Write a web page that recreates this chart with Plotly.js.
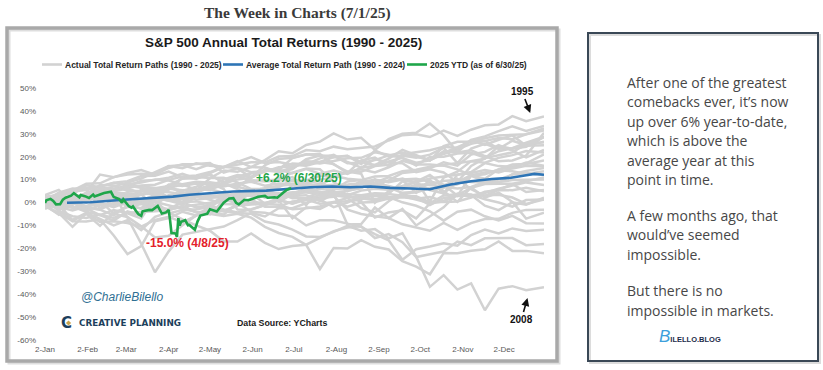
<!DOCTYPE html>
<html><head><meta charset="utf-8">
<script src="https://cdn.plot.ly/plotly-3.0.1.min.js"></script>
<style>html,body{margin:0;padding:0;background:#fff;} #chart{width:823px;height:370px;}</style>
</head><body><div id="chart"></div>
<script>
// ---------- DATA ----------
const gridDates = ['2025-01-02','2025-01-12','2025-01-22','2025-02-01','2025-02-11','2025-02-21','2025-03-03','2025-03-13','2025-03-23','2025-04-02','2025-04-12','2025-04-22','2025-05-02','2025-05-12','2025-05-22','2025-06-01','2025-06-11','2025-06-21','2025-07-01','2025-07-11','2025-07-21','2025-07-31','2025-08-10','2025-08-20','2025-08-30','2025-09-09','2025-09-19','2025-09-29','2025-10-09','2025-10-19','2025-10-29','2025-11-08','2025-11-18','2025-11-28','2025-12-08','2025-12-18','2025-12-31'];

const y1990 = [1.8,-3.7,-6,-6.7,-5.2,-6.7,-4.4,-4.2,-3.8,-3.3,-1.6,-4.1,-5.2,0.9,2.7,4.2,5.2,3.5,3.3,5.1,4.1,2.8,-3.1,-5,-6,-6.8,-9.5,-10.8,-12.3,-8.9,-11.9,-9,-7.2,-7.1,-4.5,-3.2,-3.1];
const y1991 = [-1.1,-5.3,-0.2,4.3,12.2,11.1,12.9,14.2,12.2,15.9,16.4,14.6,16.7,15.3,17.7,19.8,17.3,17.7,16.5,16.1,17.7,19.9,20.4,16.7,22.7,20.1,20.4,20.1,18.6,22.4,21.9,22.8,20.3,18,18.4,20.5,30.5];
const y1992 = [0,-0.6,0.4,-1.7,-0.5,-1,-0.6,-2.8,-1.2,-3.1,-1.8,-0.9,0,0.8,0.5,1.3,-1.8,-1.8,0.5,1,3.4,3.5,2.3,2.3,1.5,1.9,3.6,2.2,-1.1,2,2.9,3.1,4.2,6,7.4,8.8,7.6];
const y1993 = [0,-1.2,0.2,1.8,3.1,0.2,4.1,3.8,3.7,2,3.7,1.2,2,3,3.5,5.4,4.1,3.8,4.5,4.4,3.8,4.5,5,6.6,8.3,7.2,5.7,7.8,8,9.4,9.9,9,8.7,9,9.8,9.9,10.1];
const y1994 = [-0.2,1.7,2,3,1.1,1.5,0.1,0.5,1.1,-4.8,-3.2,-2.9,-2,-3.8,-1.4,-0.9,-0.5,-1,-2.9,-2.5,-1.7,0,0.7,1.2,4,2.3,2.8,1.2,-0.3,3.1,3.6,3.5,1.4,0,-1.8,1.1,1.3];
const y1995 = [0,0.6,1.4,2.7,5.2,5.8,6.3,7.4,7.8,9.9,11.4,11.8,13.3,15.5,16.7,17.6,17.5,20.1,20.3,22.9,22.4,24.4,23.3,24,24.5,27.1,29.4,29.8,28.6,31.4,29.1,31.8,33.7,34.1,37.7,35.5,37.6];
const y1996 = [0.8,-2.7,-0.2,3.5,7.7,7.4,5,5.2,6.2,7.2,3.9,6,5.4,8.4,11.3,9.7,9.2,9.6,11.1,6.2,4.4,5.5,9.2,9.8,7.7,9.7,12.9,13.5,14.9,17.6,16.1,21,22.1,25.1,22.7,19.7,23];
const y1997 = [-0.5,2.6,5.8,6.3,6.9,8.5,7.8,7.1,6.4,1.9,0.3,5.3,10.6,14,13.4,15.5,18.5,22.4,21.5,25.1,26.6,30.2,27.5,28.3,23,27.7,30,30.5,34.5,29.3,22,27.3,28.9,31.2,33.3,31.3,33.4];
const y1998 = [0.5,-3.1,-1.1,3.4,5.3,6.9,8.7,10.5,13.3,15.9,15,17.1,16.1,15.7,15.1,13.2,13.6,14.3,19.4,21,21.2,16.6,13.5,12.6,-0.1,5,6.5,9.5,0.4,10.9,13.5,18.1,19.1,24.6,23.5,24.3,28.6];
const y1999 = [0,0.8,-0.2,3.7,2.4,3.7,0.2,5.6,3,5.6,10.9,11.1,10.7,10.8,8.8,5.9,5.9,10.4,13,14.9,14.5,9,5.1,9.7,8.7,11,9.7,4.3,9.9,3.8,12.2,13.3,17.2,15.9,15.6,17.1,21];
const y2000 = [-1,-2.5,-1.8,-4,-5.5,-7.9,-3.9,-5.7,4.1,2.7,0.1,-2.1,-1.3,-3,-4.3,-2.9,-1.1,1.2,-0.5,1.3,1.3,-2,0,2.7,3,2.4,0.1,-1.4,-3.8,-7.9,-4,-3.1,-6,-7.8,-5.8,-9,-9.1];
const y2001 = [-2.8,-0.1,1.8,4.1,0.8,-4.9,-6.3,-10.4,-15.2,-14.5,-9.9,-5.6,-3.6,-5.3,-0.2,-4,-4.5,-5.8,-5.8,-10,-7.7,-7.7,-9.2,-10.6,-13.8,-16.5,-25,-20.4,-19.2,-17.8,-18.8,-14.2,-11.8,-13.5,-11.3,-12.4,-11.9];
const y2002 = [0.6,-0.2,-2.4,-2.2,-3.1,-5.6,-1.2,0.4,0.3,-1.3,-2.8,-4,-5.1,-5.9,-4.9,-6.6,-10.6,-13.3,-15,-18.5,-29,-19.8,-20.1,-16.4,-19.3,-20.5,-25.6,-28,-31.3,-22,-22.1,-21,-20.4,-17,-21.1,-21.1,-22.1];
const y2003 = [3.3,5.5,-0.1,-2.5,-5.5,-3.3,-4.7,-7,2.3,0.7,-0.7,4.3,6.5,8.2,6.9,10.9,14.5,14.3,12.8,14.6,12.6,14,12.5,15.2,16.1,17.9,19.5,16.1,19.9,20,21.4,21.7,19.6,22.4,23.7,26.1,28.7];
const y2004 = [-0.3,1.5,3,2.3,4.3,3.2,3.8,1.2,-1,3.2,3.5,3.1,1.1,-0.6,-0.9,1.6,3,2.6,2.5,1.3,-0.5,0.2,-1.8,0,0.2,1.7,2.3,1.7,2.4,0.7,3.2,6.4,8.1,8.2,8.2,9.3,10.9];
const y2005 = [-0.8,-1.9,-3.5,-1.7,-0.3,-2,0.2,-0.6,-2.9,-2.7,-1.5,-4.3,-3.6,-3.6,-1.2,0,-0.1,1,-0.4,1.6,2.3,3,2.6,1.9,1,3.7,3,2.7,0.2,0.2,0.5,2.2,4.7,5.5,5.4,6.4,4.9];
const y2006 = [1.6,3.8,1.2,2.9,1.7,3.1,3.5,3.3,4.8,4.5,3.7,5.7,5.9,4.2,2,3.9,-0.5,2,2.9,3.2,0.6,3.6,3.2,5.2,6,5.6,7.2,8.7,10.5,11.4,12.1,12.9,14.2,13.1,14.9,16.1,15.8];
const y2007 = [-0.1,1,0.4,2.1,1.3,3.2,-1.9,-2.4,1.8,0.9,2.7,5.3,6.6,7,8.3,9.1,7.3,8.3,8.1,8.7,9.4,3.8,3.7,3.2,4.1,3.8,9.3,9.1,12,7.4,10.4,5.8,2.9,5.5,8,4.6,5.5];
const y2008 = [-1.4,-4.5,-10.6,-4.7,-8.5,-8.2,-8.9,-10.5,-7.6,-6.2,-8.7,-5.7,-3.1,-3.8,-4.6,-4.9,-8.3,-9.6,-11.8,-14.8,-15,-12.8,-10.2,-12.3,-11.6,-15.6,-13.4,-23.6,-36.8,-31.7,-38,-35.3,-47,-37.6,-36.5,-38.3,-37];
const y2009 = [3.2,-3.5,-8.2,-8.3,-7.3,-14.4,-22.5,-19,-8.2,-6.8,-4,-5.6,-1.9,1.7,-0.7,5.6,5.9,0.3,3.7,-1.1,7.4,11,13.3,13.4,15.9,16.5,20.5,19.6,20.9,23.9,17.2,23.6,25.6,23.5,23.7,25,26.5];
const y2010 = [1.6,3,-1.9,-2.1,-3,-0.4,0.8,3.6,5.8,6.2,8,9.1,8.6,5.9,-3,-3.1,-1.1,0.9,-6.9,-2.1,-2.8,0.2,2,-2.4,-4.3,0.6,4.2,4.4,6.3,6.5,8,11.7,9.3,8.6,12.4,13.8,15.1];
const y2011 = [1.1,2.4,2.1,4.2,6,4.9,6.1,4.1,3.7,6.4,5.1,6.9,8.9,8,6.9,5.4,2.1,2.7,7.5,6.1,8.1,4,-9.6,-9.4,-2.2,-6.8,-2.8,-10,-6,-2.1,3.9,3.3,-1.4,-3.3,0.1,-0.9,2.1];
const y2012 = [1.6,3.1,4.8,5.5,7.1,8.7,9.3,11.6,11.7,13.5,11,10.4,12.4,8.5,5.9,2.7,5.3,6.6,9.9,8.1,9.9,11.2,13.4,14.5,13.1,15.4,18.2,16.6,16.6,16.1,14.5,11.8,10.4,14.5,15.3,17.5,16];
const y2013 = [2.5,3.3,4.9,6.3,6.7,5.7,7,9.5,9.8,10.8,12.5,10.5,12.9,15.6,18.1,15.5,15.3,13.1,14.6,18.9,20.5,19.8,20.3,17.7,16.4,19.2,23,20.7,18.3,24.6,26.5,26.5,28.1,29.3,29.5,29.8,32.4];
const y2014 = [-0.9,-0.2,0,-3.4,-1.2,-0.4,0.3,0.4,1.5,2.9,-1.1,2.4,2.6,3.4,3.3,5.1,6.2,7.3,7.9,7.6,8.1,5.9,6.2,9,10,9.2,10.5,8.7,5.5,4,9.1,11.9,13.1,14,13.7,12.5,13.7];
const y2015 = [0,-1.4,0.3,-1.6,0.7,2.8,2.7,0.1,2.7,0.9,2.2,3,3.1,2.8,4.3,3.5,3.3,4.1,1.9,2,4.6,3.4,3.5,0.2,-6.5,-4.3,-3.4,-6.9,-0.4,0.5,3.2,2.8,3.1,3.4,2.2,-0.6,1.4];
const y2016 = [-1.5,-5,-8,-4.9,-10.2,-4.4,-2,-0.6,0.2,2,1.6,3.1,2.6,1.9,1.2,3.7,3.7,3.4,4.1,5.9,7.3,7.8,7.9,8.4,8.2,5.8,6.5,7.1,7.8,6.9,6.1,6.8,9,10,12.2,12.9,12];
const y2017 = [0.8,1.5,1.6,2,3.8,6,7.4,6.5,5.4,6,5.4,5.6,7.6,7.7,7.8,9.5,9.7,9.9,9.3,9.7,11.7,11.7,10.4,9.8,11.4,11.6,13.7,14.3,15.6,16.3,17.3,18,17.4,19.5,20.7,22.5,21.8];
const y2018 = [0.8,4.3,6.1,5.6,-2.5,1.3,1,3.8,-2.8,-2.9,0.2,0.5,-0.8,2.7,2.6,3.1,5,3.7,2.9,4.8,5.8,6.4,7.1,8.1,9.8,8.9,10.1,10.4,9.1,5,0.3,6.6,2.2,4.3,0.3,-7,-4.4];
const y2019 = [0.1,3.7,5.2,8.2,8.4,11.1,12.2,12.6,12.3,15.1,16.7,16.8,17.3,13.1,14.9,10.9,16.3,19,19.5,21.1,20.5,20.4,17.2,17.4,18.5,20.6,21.8,20.1,18.5,21.2,23.2,25.6,26.8,28.2,27.6,29.8,31.5];
const y2020 = [0.8,1.2,3,-0.1,4.1,3.6,-6.6,-18,-30.4,-21.3,-14,-12.8,-11.8,-10.5,-7.7,-4.5,-6.1,-2.5,-2.5,-0.2,2,2.5,5.3,6.2,10.2,6.6,4.2,4.8,9.3,7.8,3,11.7,12.3,14.5,16.6,16.8,18.4];
const y2021 = [-1.5,1.2,2.4,0.6,4.5,3.5,2,5.3,4.5,7.5,10.4,10.7,12,8.9,11.4,12.7,14,13.4,15.3,17.7,17.1,18.1,19.3,19.5,21.9,20.9,19.4,17.4,18.4,21.7,24.1,26.7,26.9,23.5,27,25,28.7];
const y2022 = [0.6,-0.8,-7.6,-4.5,-7.1,-10,-7.7,-12,-6.2,-4.3,-7.3,-10,-12.3,-17,-17,-13.5,-17.6,-20.3,-19,-18.4,-15.4,-12.5,-10.9,-10.4,-15.5,-13.8,-17.3,-23.8,-22.6,-21.4,-17,-18.6,-15.6,-15.6,-15.5,-18.6,-18.1];
const y2023 = [-0.4,3.8,3.6,7.5,6.8,4.4,4,0.8,3.3,7.9,7.2,8.3,8.1,8.2,10.1,10.8,14,14.8,17,16.7,19.3,20.8,17.7,15.2,19,17.5,17.2,13.3,14.5,13.1,8.9,16,19.4,20.5,21.9,25.5,26.3];
const y2024 = [-0.6,0.3,1.8,3.1,5.5,4.7,8,8.7,10.1,9.6,7.9,5.5,6.8,10.1,12,11.3,13.5,15.4,15.7,18,17.7,16.8,12.8,18.4,19.6,15.9,21.1,22.1,22.8,24.4,23.8,27.2,25.1,27.4,29.3,24.8,25];

const pathYears = [1990,1991,1992,1993,1994,1995,1996,1997,1998,1999,2000,2001,2002,2003,2004,2005,2006,2007,2008,2009,2010,2011,2012,2013,2014,2015,2016,2017,2018,2019,2020,2021,2022,2023,2024];

const avgDates = ['2025-01-18','2025-02-04','2025-02-28','2025-03-12','2025-03-25','2025-04-05','2025-04-17','2025-05-02','2025-05-19','2025-06-12','2025-06-27','2025-07-14','2025-07-30','2025-08-12','2025-08-27','2025-09-10','2025-09-25','2025-10-09','2025-10-24','2025-11-08','2025-11-23','2025-12-07','2025-12-17','2025-12-24','2025-12-31'];
const avgValues = [-0.1,0.1,1.2,1.6,2.1,2.6,3.4,4.2,4.8,5.2,6.0,6.7,7.0,6.7,7.0,6.4,6.1,5.8,7.9,9.3,10.3,10.8,11.8,12.5,12.1];

const ytdDates = ['2025-01-02','2025-01-03','2025-01-06','2025-01-08','2025-01-10','2025-01-13','2025-01-15','2025-01-17','2025-01-21','2025-01-23','2025-01-27','2025-01-28','2025-01-31','2025-02-03','2025-02-06','2025-02-07','2025-02-10','2025-02-14','2025-02-19','2025-02-21','2025-02-25','2025-02-27','2025-02-28','2025-03-04','2025-03-06','2025-03-07','2025-03-10','2025-03-11','2025-03-13','2025-03-14','2025-03-19','2025-03-21','2025-03-25','2025-03-28','2025-03-31','2025-04-02','2025-04-03','2025-04-04','2025-04-07','2025-04-08','2025-04-09','2025-04-10','2025-04-11','2025-04-14','2025-04-16','2025-04-17','2025-04-21','2025-04-22','2025-04-23','2025-04-25','2025-04-30','2025-05-02','2025-05-07','2025-05-12','2025-05-16','2025-05-19','2025-05-21','2025-05-23','2025-05-27','2025-05-30','2025-06-06','2025-06-11','2025-06-13','2025-06-18','2025-06-20','2025-06-24','2025-06-27','2025-06-30'];
const ytdValues = [-0.2,1.0,1.6,0.7,-0.8,-0.7,1.3,2.1,3.0,4.1,2.3,3.3,2.8,2.0,3.5,2.7,3.3,4.2,4.7,2.4,1.5,-0.1,1.4,-1.6,-2.2,-1.7,-4.3,-5.1,-5.8,-3.8,-3.2,-3.3,-1.5,-4.8,-4.3,-3.2,-7.8,-13.3,-13.5,-15.0,-6.8,-10.0,-8.4,-7.7,-9.9,-9.8,-11.9,-9.7,-8.2,-5.7,-4.9,-2.9,-3.9,-0.1,1.8,1.9,-0.1,-0.8,1.2,1.0,2.5,2.9,2.1,2.3,2.1,4.2,5.6,6.2];

const monthTicks = ['2025-01-02','2025-02-02','2025-03-02','2025-04-02','2025-05-02','2025-06-02','2025-07-02','2025-08-02','2025-09-02','2025-10-02','2025-11-02','2025-12-02'];
const monthLabels = ['2-Jan','2-Feb','2-Mar','2-Apr','2-May','2-Jun','2-Jul','2-Aug','2-Sep','2-Oct','2-Nov','2-Dec'];
const yTicks = [-60,-50,-40,-30,-20,-10,0,10,20,30,40,50];
const yLabels = ['-60%','-50%','-40%','-30%','-20%','-10%','0%','10%','20%','30%','40%','50%'];

const legendLabels = ['Actual Total Return Paths (1990 - 2025)','Average Total Return Path (1990 - 2024)','2025 YTD (as of 6/30/25)'];
const panelParagraphs = [
  ['After one of the greatest','comebacks ever, it\u2019s now','up over 6% year-to-date,','which is above the','average year at this','point in time.'],
  ['A few months ago, that','would\u2019ve seemed','impossible.'],
  ['But there is no','impossible in markets.']
];

// ---------- STYLE / LAYOUT ----------
const GRAY = '#d2d2d2', BLUE = '#2e75b6', GREEN = '#1fa64a', RED = '#e3202a';
const L = 45, T = 88, W = 499, H = 252;
const px = v => (v - L) / W;
const py = v => (T + H - v) / H;

const traces = [y1990,y1991,y1992,y1993,y1994,y1995,y1996,y1997,y1998,y1999,y2000,y2001,y2002,y2003,y2004,y2005,y2006,y2007,y2008,y2009,y2010,y2011,y2012,y2013,y2014,y2015,y2016,y2017,y2018,y2019,y2020,y2021,y2022,y2023,y2024].map((vals, i) => ({
  type: 'scatter', mode: 'lines', x: gridDates, y: vals, name: String(pathYears[i]),
  line: {color: GRAY, width: 2.5}, hoverinfo: 'skip', showlegend: false
}));
traces.push({type: 'scatter', mode: 'lines', x: avgDates, y: avgValues, name: legendLabels[1],
  line: {color: BLUE, width: 2.6}, showlegend: false});
traces.push({type: 'scatter', mode: 'lines', x: ytdDates, y: ytdValues, name: legendLabels[2],
  line: {color: GREEN, width: 2.6}, showlegend: false});

const AR = 'Liberation Sans, Arial, sans-serif';
const dx = 2.6 / W, dy = 2.6 / H, cx = px(68.5), cy = py(323);
const shapes = [
  {type: 'rect', xref: 'paper', yref: 'paper', x0: px(9), x1: px(559), y0: py(363), y1: py(30), line: {color: '#dedede', width: 3}},
  {type: 'rect', xref: 'paper', yref: 'paper', x0: px(7), x1: px(557), y0: py(361), y1: py(28), line: {color: '#a9a9a9', width: 3.5}},
  {type: 'rect', xref: 'paper', yref: 'paper', x0: px(590), x1: px(820), y0: py(363), y1: py(35), line: {color: '#dcdcdc', width: 2}},
  {type: 'rect', xref: 'paper', yref: 'paper', x0: px(588), x1: px(818), y0: py(361), y1: py(33), line: {color: '#3a4856', width: 2}},
  {type: 'path', xref: 'paper', yref: 'paper', path: `M ${cx - dx} ${cy} L ${cx} ${cy + dy} L ${cx + dx} ${cy} L ${cx} ${cy - dy} Z`,
   fillcolor: '#c9a24a', line: {width: 0}}
];
const legendPos = [[42, 63], [223, 244], [407, 428]];
const legendColors = [GRAY, BLUE, GREEN];
const annotations = [];
legendPos.forEach((p, i) => {
  shapes.push({type: 'line', xref: 'paper', yref: 'paper', x0: px(p[0]), x1: px(p[0] + 20), y0: py(64.5), y1: py(64.5), line: {color: legendColors[i], width: 2.6}});
  annotations.push({xref: 'paper', yref: 'paper', x: px(p[1]), y: py(64.5), xanchor: 'left', yanchor: 'middle', showarrow: false,
    text: '<b>' + legendLabels[i] + '</b>', font: {family: AR, size: 8.5, color: '#262626'}});
});

annotations.push(
  {xref: 'paper', yref: 'paper', x: px(297), y: py(13), xanchor: 'center', yanchor: 'middle', showarrow: false,
   text: '<b>The Week in Charts (7/1/25)</b>', font: {family: 'Liberation Serif, serif', size: 15.5, color: '#3a3a3a'}},
  {xref: 'paper', yref: 'paper', x: px(283), y: py(43), xanchor: 'center', yanchor: 'middle', showarrow: false,
   text: '<b>S&P 500 Annual Total Returns (1990 - 2025)</b>', font: {family: AR, size: 13.5, color: '#1a1a1a'}},
  {x: '2025-07-06', y: 10.7, xanchor: 'center', yanchor: 'middle', showarrow: false,
   text: '<b>+6.2% (6/30/25)</b>', font: {family: AR, size: 12, color: GREEN}},
  {x: '2025-04-16', y: -17.7, xanchor: 'center', yanchor: 'middle', showarrow: false,
   text: '<b>-15.0% (4/8/25)</b>', font: {family: AR, size: 12, color: RED}},
  {x: '2025-12-21', y: 39.1, ax: -8, ay: -21, showarrow: true, arrowhead: 2, arrowsize: 1, arrowwidth: 1.6, arrowcolor: '#111',
   text: '<b>1995</b>', font: {family: AR, size: 10, color: '#111'}},
  {x: '2025-12-19', y: -41.7, ax: -6, ay: 21, showarrow: true, arrowhead: 2, arrowsize: 1, arrowwidth: 1.6, arrowcolor: '#111',
   text: '<b>2008</b>', font: {family: AR, size: 10, color: '#111'}},
  {xref: 'paper', yref: 'paper', x: px(122), y: py(297), xanchor: 'center', yanchor: 'middle', showarrow: false,
   text: '@CharlieBilello', font: {family: AR, size: 12, color: '#2f6f93', style: 'italic'}},
  {xref: 'paper', yref: 'paper', x: px(66), y: py(323), xanchor: 'center', yanchor: 'middle', showarrow: false,
   text: '<b>C</b>', font: {family: 'DejaVu Sans, sans-serif', size: 15, color: '#1d3f5c'}},
  {xref: 'paper', yref: 'paper', x: px(77), y: py(323), xanchor: 'left', yanchor: 'middle', showarrow: false,
   text: '<b>CREATIVE PLANNING</b>', font: {family: 'DejaVu Sans, sans-serif', size: 8.8, color: '#1d3f5c'}},
  {xref: 'paper', yref: 'paper', x: px(282), y: py(323), xanchor: 'center', yanchor: 'middle', showarrow: false,
   text: '<b>Data Source: YCharts</b>', font: {family: AR, size: 8.8, color: '#1a1a1a'}},
  {xref: 'paper', yref: 'paper', x: px(690), y: py(336), xanchor: 'center', yanchor: 'middle', showarrow: false,
   text: '<span style="font-size:17px;color:#3d9fdc;font-style:italic">B</span><b>ILELLO.BLOG</b>', font: {family: AR, size: 7.5, color: '#1d2d4a'}}
);

let lineY = 82;
panelParagraphs.forEach((para, pi) => {
  if (pi > 0) lineY += 36 - 19.5;
  para.forEach(line => {
    annotations.push({xref: 'paper', yref: 'paper', x: px(625), y: py(lineY), xanchor: 'left', yanchor: 'middle', showarrow: false,
      text: line, font: {family: 'Open Sans, sans-serif', size: 14, color: '#474747'}});
    lineY += 19.5;
  });
});

const layout = {
  width: 823, height: 370,
  margin: {l: L, r: 823 - L - W, t: T, b: 370 - T - H, pad: 0},
  paper_bgcolor: '#ffffff', plot_bgcolor: '#ffffff',
  showlegend: false,
  xaxis: {type: 'date', range: ['2025-01-02', '2025-12-31'], tickvals: monthTicks, ticktext: monthLabels,
    showgrid: false, zeroline: false, showline: false, ticks: '', ticklabelstandoff: 3,
    tickfont: {family: AR, size: 8, color: '#595959'}},
  yaxis: {range: [-60, 50], tickvals: yTicks, ticktext: yLabels,
    showgrid: false, zeroline: false, showline: false, ticks: '', ticklabelstandoff: 8,
    tickfont: {family: AR, size: 8, color: '#595959'}},
  shapes: shapes,
  annotations: annotations
};

Plotly.newPlot('chart', traces, layout, {displayModeBar: false, staticPlot: true});
</script>
</body></html>
